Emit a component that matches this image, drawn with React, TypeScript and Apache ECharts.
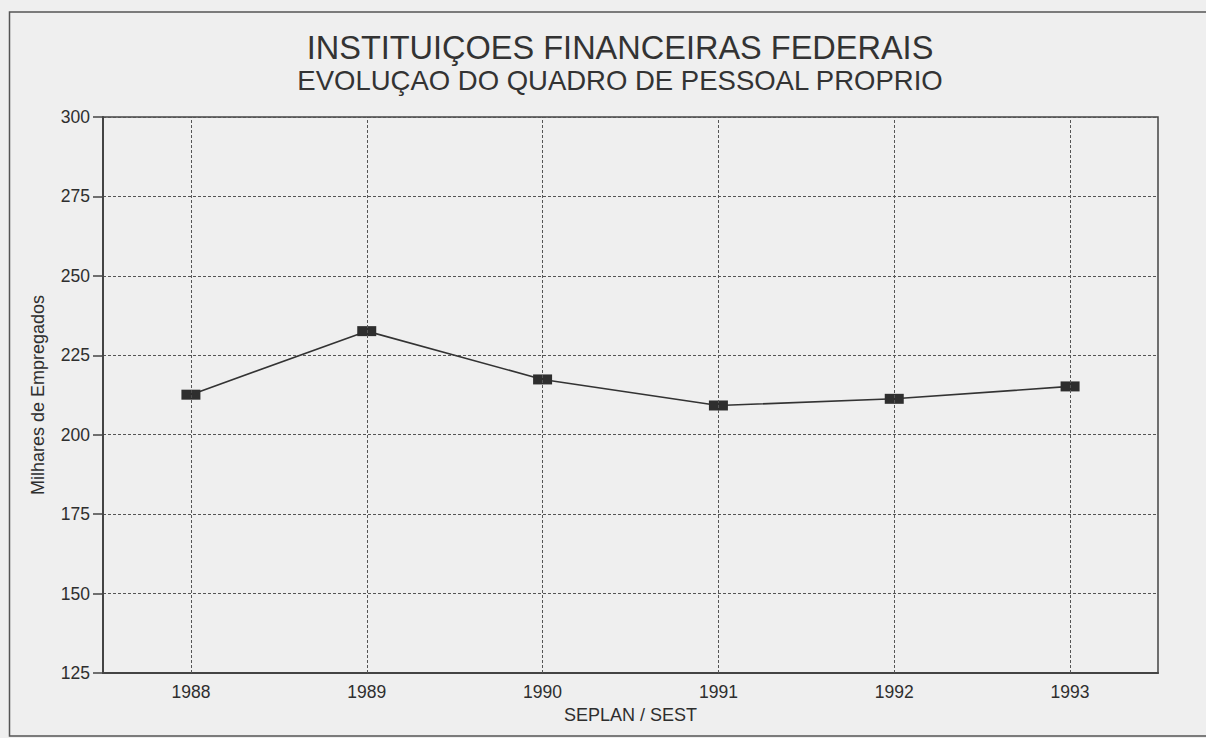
import React, { useEffect, useRef } from "react";
import * as echarts from "echarts";

const years = ["1988", "1989", "1990", "1991", "1992", "1993"];
const employees = [212.6, 232.6, 217.4, 209.2, 211.3, 215.2];
const titleMain = "INSTITUIÇOES FINANCEIRAS FEDERAIS";
const titleSub = "EVOLUÇAO DO QUADRO DE PESSOAL PROPRIO";
const yName = "Milhares de Empregados";
const xName = "SEPLAN / SEST";
const yMin = 125;
const yMax = 300;
const yStep = 25;

const FONT = "'Liberation Sans', Arial, Helvetica, sans-serif";
const INK = "#2e2e2e";

export default function App() {
  const ref = useRef<HTMLDivElement>(null);
  useEffect(() => {
    if (!ref.current) return;
    const chart = echarts.init(ref.current, undefined, { renderer: "svg" });
    chart.setOption({
      animation: false,
      backgroundColor: "#efefef",
      textStyle: { fontFamily: FONT, color: INK },
      title: [
        {
          text: titleMain,
          left: 615,
          top: 26,
          textAlign: "center",
          textStyle: { fontFamily: FONT, fontSize: 32.5, fontWeight: "normal", color: "#333" },
        },
        {
          text: titleSub,
          left: 615,
          top: 61,
          textAlign: "center",
          textStyle: { fontFamily: FONT, fontSize: 27.5, fontWeight: "normal", color: "#333" },
        },
      ],
      graphic: [
        {
          type: "rect",
          shape: { x: 9.5, y: 12, width: 1205, height: 724 },
          style: { fill: "none", stroke: "#555", lineWidth: 1.5 },
          silent: true,
        },
      ],
      grid: {
        left: 103,
        right: 1206 - 1158,
        top: 117,
        bottom: 738 - 673,
        show: true,
        borderColor: "#444",
        borderWidth: 1.5,
      },
      xAxis: {
        type: "category",
        data: years,
        boundaryGap: true,
        name: xName,
        nameLocation: "middle",
        nameGap: 30,
        nameTextStyle: { fontFamily: FONT, fontSize: 18, color: INK },
        axisLine: { lineStyle: { color: "#444", width: 2 } },
        axisTick: { alignWithLabel: true, length: 8, lineStyle: { color: "#444", width: 1.5 } },
        axisLabel: { fontFamily: FONT, fontSize: 17.5, color: INK, margin: 10 },
        splitLine: { show: false },
      },
      yAxis: {
        type: "value",
        min: yMin,
        max: yMax,
        interval: yStep,
        name: yName,
        nameLocation: "middle",
        nameGap: 56,
        nameTextStyle: { fontFamily: FONT, fontSize: 18, color: INK },
        axisLine: { show: true, lineStyle: { color: "#444", width: 2 } },
        axisTick: { show: true, length: 10, lineStyle: { color: "#444", width: 1.5 } },
        axisLabel: { fontFamily: FONT, fontSize: 17.5, color: INK, margin: 13 },
        splitLine: { show: true, lineStyle: { color: "#555", width: 1, type: [3, 2] } },
      },
      series: [
        {
          type: "line",
          data: employees,
          symbol: "rect",
          symbolSize: [19, 10],
          itemStyle: { color: "#2e2e2e" },
          lineStyle: { color: "#333", width: 1.6 },
          markLine: {
            silent: true,
            symbol: "none",
            label: { show: false },
            lineStyle: { color: "#555", width: 1, type: [3, 2] },
            data: years.map((y) => ({ xAxis: y })),
          },
          z: 3,
        },
      ],
    });
    return () => chart.dispose();
  }, []);
  return (
    <div
      ref={ref}
      style={{ position: "fixed", left: 0, top: 0, width: 1206, height: 738 }}
    />
  );
}
